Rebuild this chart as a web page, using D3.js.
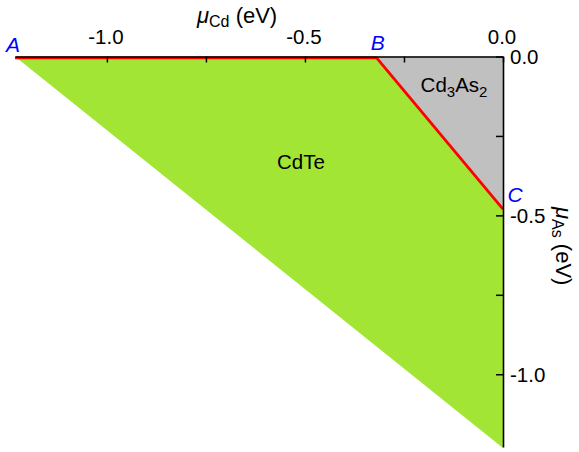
<!DOCTYPE html>
<html>
<head>
<meta charset="utf-8">
<script src="https://cdn.jsdelivr.net/npm/d3@7"></script>
<style>
  html, body { margin: 0; padding: 0; background: #fff; }
  svg { display: block; font-family: Arial, "Liberation Sans", sans-serif; }
</style>
</head>
<body>
<svg id="chart" width="579" height="452"></svg>
<script>
// Chemical-potential limits (eV)
const dHCdTe = -1.232;          // formation enthalpy bounding the CdTe region
const muCdB = -0.319;           // point B on the mu_As = 0 edge
const muAsC = -0.476;           // point C on the mu_Cd = 0 edge

// Stability regions as polygon vertices [muCd, muAs]
const cdteRegion = [[dHCdTe, 0], [muCdB, 0], [0, muAsC], [0, dHCdTe]];
const cd3as2Region = [[muCdB, 0], [0, 0], [0, muAsC]];
// Boundary line A-B-C
const boundary = [[dHCdTe, 0], [muCdB, 0], [0, muAsC]];
const points = [
  { name: "A", x: dHCdTe, y: 0 },
  { name: "B", x: muCdB, y: 0 },
  { name: "C", x: 0, y: muAsC }
];

// Axis ticks
const xTicks = [-1.0, -0.75, -0.5, -0.25, 0.0];
const xTickLabels = [-1.0, -0.5, 0.0];
const yTicks = [0.0, -0.25, -0.5, -0.75, -1.0];
const yTickLabels = [0.0, -0.5, -1.0];

const FS = 20.5, SUB = 15;

const svg = d3.select("#chart");
const x = d3.scaleLinear().domain([dHCdTe, 0]).range([15, 503]);
const y = d3.scaleLinear().domain([0, -1.229]).range([56.5, 447]);

const line = d3.line().x(d => x(d[0])).y(d => y(d[1]));

svg.append("path").attr("d", line(cdteRegion) + "Z").attr("fill", "#a2e535");
svg.append("path").attr("d", line(cd3as2Region) + "Z").attr("fill", "#c0c0c0");

// Region labels
svg.append("text").attr("x", x(-0.51)).attr("y", y(-0.354))
  .attr("text-anchor", "middle").attr("font-size", FS).text("CdTe");
const cdas = svg.append("text").attr("x", x(-0.208)).attr("y", y(-0.112))
  .attr("font-size", FS);
cdas.append("tspan").text("Cd");
cdas.append("tspan").attr("font-size", SUB).attr("dy", 5).text("3");
cdas.append("tspan").attr("dy", -5).text("As");
cdas.append("tspan").attr("font-size", SUB).attr("dy", 5).text("2");

// Red boundary A-B-C
svg.append("path").attr("d", line(boundary))
  .attr("transform", "translate(0,1.3)")
  .attr("fill", "none").attr("stroke", "#ff0000").attr("stroke-width", 2.8)
  .attr("stroke-linejoin", "miter");

// Top axis (mu_Cd)
const xAxis = d3.axisBottom(x).tickValues(xTicks).tickSize(6).tickSizeOuter(0)
  .tickFormat(d => "");
const gx = svg.append("g").attr("transform", `translate(0,${y(0)})`).call(xAxis);
gx.select(".domain").attr("stroke", "#000").attr("stroke-width", 1.6);
gx.selectAll(".tick line").attr("stroke", "#000").attr("stroke-width", 1.5);
svg.selectAll(".xlab").data(xTickLabels).enter().append("text")
  .attr("x", d => x(d) - 1).attr("y", 43.5)
  .attr("text-anchor", "middle").attr("font-size", FS).text(d => d3.format(".1f")(d).replace("−", "-"));

// Right axis (mu_As)
const yAxis = d3.axisLeft(y).tickValues(yTicks).tickSize(7).tickSizeOuter(0)
  .tickFormat(d => "");
const gy = svg.append("g").attr("transform", `translate(${x(0)},0)`).call(yAxis);
gy.select(".domain").attr("stroke", "#000").attr("stroke-width", 1.6);
gy.selectAll(".tick line").attr("stroke", "#000").attr("stroke-width", 1.5);
svg.selectAll(".ylab").data(yTickLabels).enter().append("text")
  .attr("x", 510).attr("y", d => y(d) + 7.5)
  .attr("font-size", FS).text(d => d3.format(".1f")(d).replace("−", "-"));

// Axis titles
const TFS = 22, TSUB = 16;
const tx = svg.append("text").attr("x", 197).attr("y", 23).attr("font-size", TFS);
tx.append("tspan").attr("font-style", "italic").text("\u03bc");
tx.append("tspan").attr("font-size", TSUB).attr("dy", 4).text("Cd");
tx.append("tspan").attr("dy", -4).text(" (eV)");

const ty = svg.append("text").attr("transform", "translate(556,207) rotate(90)")
  .attr("font-size", TFS);
ty.append("tspan").attr("font-style", "italic").text("\u03bc");
ty.append("tspan").attr("font-size", TSUB).attr("dy", 4).text("As");
ty.append("tspan").attr("dy", -4).text(" (eV)");

// Vertex labels
const off = { A: [-2, -5], B: [1, -7], C: [12, -6] };
svg.selectAll(".pt").data(points).enter().append("text")
  .attr("x", d => x(d.x) + off[d.name][0]).attr("y", d => y(d.y) + off[d.name][1])
  .attr("text-anchor", "middle").attr("font-size", 21).attr("font-style", "italic")
  .attr("fill", "#0000ff").text(d => d.name);
</script>
</body>
</html>
